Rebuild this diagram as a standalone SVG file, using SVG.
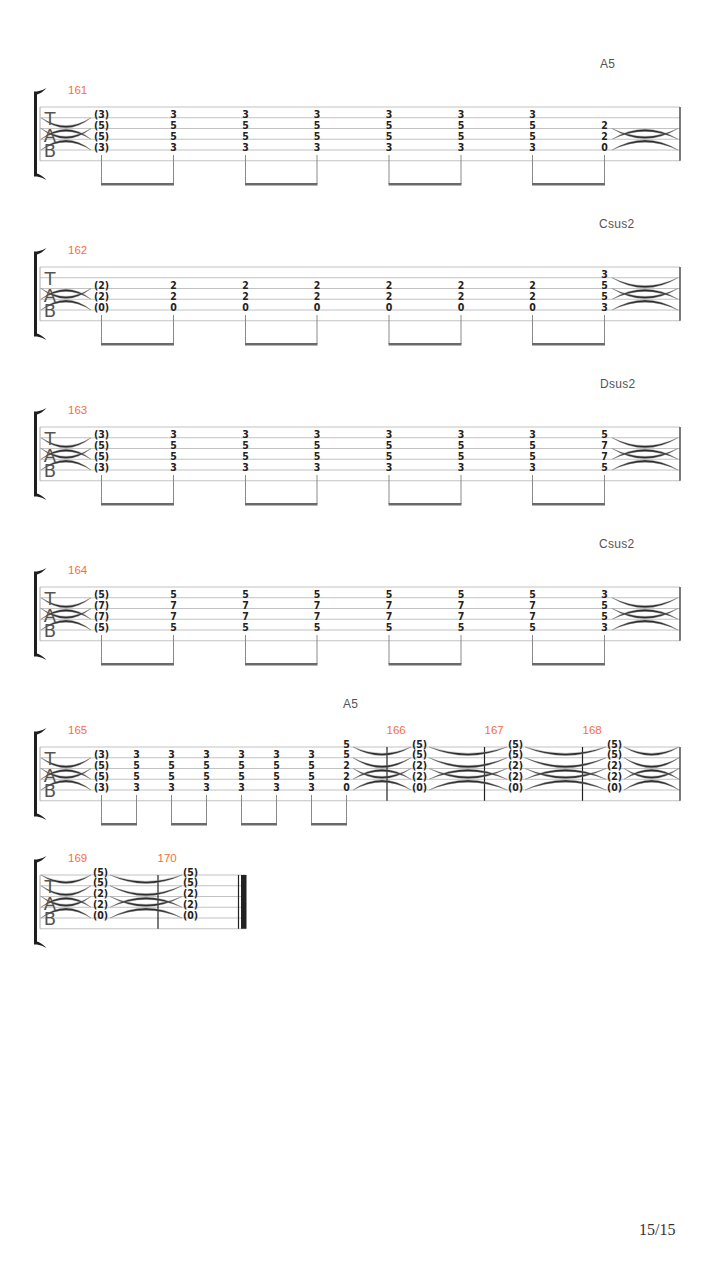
<svg xmlns="http://www.w3.org/2000/svg" width="720" height="1280" viewBox="0 0 720 1280">
<style>
.sl{stroke:#c2c2c2;stroke-width:1}
.lb{stroke:#a8a8a8;stroke-width:1}
.bl{stroke:#222;stroke-width:1.2}
.n{font-family:"DejaVu Sans Condensed","DejaVu Sans",sans-serif;font-weight:bold;font-size:10.5px;fill:#222;text-anchor:middle}
.mn{font-family:"Liberation Sans",Arial,sans-serif;font-size:11.5px;fill:#f2703f}
.ch{font-family:"Liberation Sans",Arial,sans-serif;font-size:12px;fill:#555;letter-spacing:0.3px}
.tab{font-family:"DejaVu Sans",sans-serif;font-size:18px;fill:#555;text-anchor:middle}
.st{stroke:#8a8a8a;stroke-width:1}
.bm{fill:#6a6a6a}
.tie path{fill:#2b2b2b;stroke:#888;stroke-width:0.4;vector-effect:non-scaling-stroke}
.brk{fill:#1e1e1e}
.pg{font-family:"Liberation Serif","Times New Roman",serif;font-size:16px;fill:#333}
</style>
<defs>
<g id="staff">
<line class="sl" x1="40" y1="0" x2="680" y2="0"/>
<line class="sl" x1="40" y1="10.75" x2="680" y2="10.75"/>
<line class="sl" x1="40" y1="21.5" x2="680" y2="21.5"/>
<line class="sl" x1="40" y1="32.25" x2="680" y2="32.25"/>
<line class="sl" x1="40" y1="43" x2="680" y2="43"/>
<line class="sl" x1="40" y1="53.75" x2="680" y2="53.75"/>
</g>
<g id="br">
<rect class="brk" x="34" y="-14" width="3" height="82"/>
<path class="brk" d="M34 -15.5 L37 -15.5 Q42 -16 46.5 -19 Q42 -14 37 -12.5 L34 -12.5Z"/>
<path class="brk" d="M34 69.5 L37 69.5 Q42 70 46.5 73 Q42 68 37 66.5 L34 66.5Z"/>
</g>
<g id="tA" class="tie">
<path d="M0 10.75 Q50 30.75 100 10.75 Q50 26.5 0 10.75Z"/>
<path d="M0 21.5 Q50 41.5 100 21.5 Q50 37.25 0 21.5Z"/>
<path d="M0 32.25 Q50 12.25 100 32.25 Q50 16.5 0 32.25Z"/>
<path d="M0 43 Q50 23 100 43 Q50 27.25 0 43Z"/>
</g>
<g id="tB" class="tie">
<path d="M0 21.5 Q50 41.5 100 21.5 Q50 37.25 0 21.5Z"/>
<path d="M0 32.25 Q50 12.25 100 32.25 Q50 16.5 0 32.25Z"/>
<path d="M0 43 Q50 23 100 43 Q50 27.25 0 43Z"/>
</g>
<g id="tC" class="tie">
<path d="M0 0 Q50 17 100 0 Q50 12.75 0 0Z"/>
<path d="M0 10.75 Q50 30.75 100 10.75 Q50 26.5 0 10.75Z"/>
<path d="M0 21.5 Q50 41.5 100 21.5 Q50 37.25 0 21.5Z"/>
<path d="M0 32.25 Q50 12.25 100 32.25 Q50 16.5 0 32.25Z"/>
<path d="M0 43 Q50 23 100 43 Q50 27.25 0 43Z"/>
</g>
</defs>
<rect x="0" y="0" width="720" height="1280" fill="#fff"/>

<!-- System 1 -->
<g id="sys1" transform="translate(0,107)">
<use href="#staff"/>
<use href="#br"/>
<text class="tab" x="50" y="18">T</text><text class="tab" x="50" y="35">A</text><text class="tab" x="50" y="50">B</text>
<line class="lb" x1="40" y1="0" x2="40" y2="53.75"/>
<line class="bl" x1="680" y1="0" x2="680" y2="53.75"/>
<g id="m161">
<text class="mn" x="68" y="-13">161</text>
<text class="ch" x="600" y="-38.7">A5</text>
<text class="n" x="101.5" y="11.45">(3)</text><text class="n" x="101.5" y="22.2">(5)</text><text class="n" x="101.5" y="32.95">(5)</text><text class="n" x="101.5" y="43.7">(3)</text>
<text class="n" x="173.5" y="11.45">3</text><text class="n" x="173.5" y="22.2">5</text><text class="n" x="173.5" y="32.95">5</text><text class="n" x="173.5" y="43.7">3</text>
<text class="n" x="245.5" y="11.45">3</text><text class="n" x="245.5" y="22.2">5</text><text class="n" x="245.5" y="32.95">5</text><text class="n" x="245.5" y="43.7">3</text>
<text class="n" x="317" y="11.45">3</text><text class="n" x="317" y="22.2">5</text><text class="n" x="317" y="32.95">5</text><text class="n" x="317" y="43.7">3</text>
<text class="n" x="389" y="11.45">3</text><text class="n" x="389" y="22.2">5</text><text class="n" x="389" y="32.95">5</text><text class="n" x="389" y="43.7">3</text>
<text class="n" x="461" y="11.45">3</text><text class="n" x="461" y="22.2">5</text><text class="n" x="461" y="32.95">5</text><text class="n" x="461" y="43.7">3</text>
<text class="n" x="532.5" y="11.45">3</text><text class="n" x="532.5" y="22.2">5</text><text class="n" x="532.5" y="32.95">5</text><text class="n" x="532.5" y="43.7">3</text>
<text class="n" x="604.5" y="22.2">2</text><text class="n" x="604.5" y="32.95">2</text><text class="n" x="604.5" y="43.7">0</text>
</g>
</g>

<!-- System 2 -->
<g id="sys2" transform="translate(0,267)">
<use href="#staff"/>
<use href="#br"/>
<text class="tab" x="50" y="18">T</text><text class="tab" x="50" y="35">A</text><text class="tab" x="50" y="50">B</text>
<line class="lb" x1="40" y1="0" x2="40" y2="53.75"/>
<line class="bl" x1="680" y1="0" x2="680" y2="53.75"/>
<g id="m162">
<text class="mn" x="68" y="-13">162</text>
<text class="ch" x="599" y="-38.7">Csus2</text>
<text class="n" x="101.5" y="22.2">(2)</text><text class="n" x="101.5" y="32.95">(2)</text><text class="n" x="101.5" y="43.7">(0)</text>
<text class="n" x="173.5" y="22.2">2</text><text class="n" x="173.5" y="32.95">2</text><text class="n" x="173.5" y="43.7">0</text>
<text class="n" x="245.5" y="22.2">2</text><text class="n" x="245.5" y="32.95">2</text><text class="n" x="245.5" y="43.7">0</text>
<text class="n" x="317" y="22.2">2</text><text class="n" x="317" y="32.95">2</text><text class="n" x="317" y="43.7">0</text>
<text class="n" x="389" y="22.2">2</text><text class="n" x="389" y="32.95">2</text><text class="n" x="389" y="43.7">0</text>
<text class="n" x="461" y="22.2">2</text><text class="n" x="461" y="32.95">2</text><text class="n" x="461" y="43.7">0</text>
<text class="n" x="532.5" y="22.2">2</text><text class="n" x="532.5" y="32.95">2</text><text class="n" x="532.5" y="43.7">0</text>
<text class="n" x="604.5" y="11.45">3</text><text class="n" x="604.5" y="22.2">5</text><text class="n" x="604.5" y="32.95">5</text><text class="n" x="604.5" y="43.7">3</text>
</g>
</g>

<!-- System 3 -->
<g id="sys3" transform="translate(0,427)">
<use href="#staff"/>
<use href="#br"/>
<text class="tab" x="50" y="18">T</text><text class="tab" x="50" y="35">A</text><text class="tab" x="50" y="50">B</text>
<line class="lb" x1="40" y1="0" x2="40" y2="53.75"/>
<line class="bl" x1="680" y1="0" x2="680" y2="53.75"/>
<g id="m163">
<text class="mn" x="68" y="-13">163</text>
<text class="ch" x="600" y="-38.7">Dsus2</text>
<text class="n" x="101.5" y="11.45">(3)</text><text class="n" x="101.5" y="22.2">(5)</text><text class="n" x="101.5" y="32.95">(5)</text><text class="n" x="101.5" y="43.7">(3)</text>
<text class="n" x="173.5" y="11.45">3</text><text class="n" x="173.5" y="22.2">5</text><text class="n" x="173.5" y="32.95">5</text><text class="n" x="173.5" y="43.7">3</text>
<text class="n" x="245.5" y="11.45">3</text><text class="n" x="245.5" y="22.2">5</text><text class="n" x="245.5" y="32.95">5</text><text class="n" x="245.5" y="43.7">3</text>
<text class="n" x="317" y="11.45">3</text><text class="n" x="317" y="22.2">5</text><text class="n" x="317" y="32.95">5</text><text class="n" x="317" y="43.7">3</text>
<text class="n" x="389" y="11.45">3</text><text class="n" x="389" y="22.2">5</text><text class="n" x="389" y="32.95">5</text><text class="n" x="389" y="43.7">3</text>
<text class="n" x="461" y="11.45">3</text><text class="n" x="461" y="22.2">5</text><text class="n" x="461" y="32.95">5</text><text class="n" x="461" y="43.7">3</text>
<text class="n" x="532.5" y="11.45">3</text><text class="n" x="532.5" y="22.2">5</text><text class="n" x="532.5" y="32.95">5</text><text class="n" x="532.5" y="43.7">3</text>
<text class="n" x="604.5" y="11.45">5</text><text class="n" x="604.5" y="22.2">7</text><text class="n" x="604.5" y="32.95">7</text><text class="n" x="604.5" y="43.7">5</text>
</g>
</g>

<!-- System 4 -->
<g id="sys4" transform="translate(0,587)">
<use href="#staff"/>
<use href="#br"/>
<text class="tab" x="50" y="18">T</text><text class="tab" x="50" y="35">A</text><text class="tab" x="50" y="50">B</text>
<line class="lb" x1="40" y1="0" x2="40" y2="53.75"/>
<line class="bl" x1="680" y1="0" x2="680" y2="53.75"/>
<g id="m164">
<text class="mn" x="68" y="-13">164</text>
<text class="ch" x="599" y="-38.7">Csus2</text>
<text class="n" x="101.5" y="11.45">(5)</text><text class="n" x="101.5" y="22.2">(7)</text><text class="n" x="101.5" y="32.95">(7)</text><text class="n" x="101.5" y="43.7">(5)</text>
<text class="n" x="173.5" y="11.45">5</text><text class="n" x="173.5" y="22.2">7</text><text class="n" x="173.5" y="32.95">7</text><text class="n" x="173.5" y="43.7">5</text>
<text class="n" x="245.5" y="11.45">5</text><text class="n" x="245.5" y="22.2">7</text><text class="n" x="245.5" y="32.95">7</text><text class="n" x="245.5" y="43.7">5</text>
<text class="n" x="317" y="11.45">5</text><text class="n" x="317" y="22.2">7</text><text class="n" x="317" y="32.95">7</text><text class="n" x="317" y="43.7">5</text>
<text class="n" x="389" y="11.45">5</text><text class="n" x="389" y="22.2">7</text><text class="n" x="389" y="32.95">7</text><text class="n" x="389" y="43.7">5</text>
<text class="n" x="461" y="11.45">5</text><text class="n" x="461" y="22.2">7</text><text class="n" x="461" y="32.95">7</text><text class="n" x="461" y="43.7">5</text>
<text class="n" x="532.5" y="11.45">5</text><text class="n" x="532.5" y="22.2">7</text><text class="n" x="532.5" y="32.95">7</text><text class="n" x="532.5" y="43.7">5</text>
<text class="n" x="604.5" y="11.45">3</text><text class="n" x="604.5" y="22.2">5</text><text class="n" x="604.5" y="32.95">5</text><text class="n" x="604.5" y="43.7">3</text>
</g>
</g>

<!-- System 5 -->
<g id="sys5" transform="translate(0,747)">
<use href="#staff"/>
<use href="#br"/>
<text class="tab" x="50" y="18">T</text><text class="tab" x="50" y="35">A</text><text class="tab" x="50" y="50">B</text>
<line class="lb" x1="40" y1="0" x2="40" y2="53.75"/>
<line class="bl" x1="387" y1="0" x2="387" y2="53.75"/>
<line class="bl" x1="484.5" y1="0" x2="484.5" y2="53.75"/>
<line class="bl" x1="582.5" y1="0" x2="582.5" y2="53.75"/>
<line class="bl" x1="680" y1="0" x2="680" y2="53.75"/>
<g id="m165">
<text class="mn" x="68" y="-13">165</text>
<text class="ch" x="343" y="-38.7">A5</text>
<text class="n" x="101.5" y="11.45">(3)</text><text class="n" x="101.5" y="22.2">(5)</text><text class="n" x="101.5" y="32.95">(5)</text><text class="n" x="101.5" y="43.7">(3)</text>
<text class="n" x="136.5" y="11.45">3</text><text class="n" x="136.5" y="22.2">5</text><text class="n" x="136.5" y="32.95">5</text><text class="n" x="136.5" y="43.7">3</text>
<text class="n" x="171.5" y="11.45">3</text><text class="n" x="171.5" y="22.2">5</text><text class="n" x="171.5" y="32.95">5</text><text class="n" x="171.5" y="43.7">3</text>
<text class="n" x="206.5" y="11.45">3</text><text class="n" x="206.5" y="22.2">5</text><text class="n" x="206.5" y="32.95">5</text><text class="n" x="206.5" y="43.7">3</text>
<text class="n" x="241.5" y="11.45">3</text><text class="n" x="241.5" y="22.2">5</text><text class="n" x="241.5" y="32.95">5</text><text class="n" x="241.5" y="43.7">3</text>
<text class="n" x="276.5" y="11.45">3</text><text class="n" x="276.5" y="22.2">5</text><text class="n" x="276.5" y="32.95">5</text><text class="n" x="276.5" y="43.7">3</text>
<text class="n" x="311.5" y="11.45">3</text><text class="n" x="311.5" y="22.2">5</text><text class="n" x="311.5" y="32.95">5</text><text class="n" x="311.5" y="43.7">3</text>
<text class="n" x="346.5" y="0.7">5</text><text class="n" x="346.5" y="11.45">5</text><text class="n" x="346.5" y="22.2">2</text><text class="n" x="346.5" y="32.95">2</text><text class="n" x="346.5" y="43.7">0</text>
</g>
<g id="m166">
<text class="mn" x="386.5" y="-13">166</text>
<text class="n" x="419.5" y="0.7">(5)</text><text class="n" x="419.5" y="11.45">(5)</text><text class="n" x="419.5" y="22.2">(2)</text><text class="n" x="419.5" y="32.95">(2)</text><text class="n" x="419.5" y="43.7">(0)</text>
</g>
<g id="m167">
<text class="mn" x="484.5" y="-13">167</text>
<text class="n" x="515.5" y="0.7">(5)</text><text class="n" x="515.5" y="11.45">(5)</text><text class="n" x="515.5" y="22.2">(2)</text><text class="n" x="515.5" y="32.95">(2)</text><text class="n" x="515.5" y="43.7">(0)</text>
</g>
<g id="m168">
<text class="mn" x="582.5" y="-13">168</text>
<text class="n" x="614.5" y="0.7">(5)</text><text class="n" x="614.5" y="11.45">(5)</text><text class="n" x="614.5" y="22.2">(2)</text><text class="n" x="614.5" y="32.95">(2)</text><text class="n" x="614.5" y="43.7">(0)</text>
</g>
</g>

<!-- System 6 -->
<g id="sys6" transform="translate(0,875)">
<line class="sl" x1="40" y1="0" x2="246" y2="0"/>
<line class="sl" x1="40" y1="10.75" x2="246" y2="10.75"/>
<line class="sl" x1="40" y1="21.5" x2="246" y2="21.5"/>
<line class="sl" x1="40" y1="32.25" x2="246" y2="32.25"/>
<line class="sl" x1="40" y1="43" x2="246" y2="43"/>
<line class="sl" x1="40" y1="53.75" x2="246" y2="53.75"/>
<use href="#br"/>
<text class="tab" x="50" y="18">T</text><text class="tab" x="50" y="35">A</text><text class="tab" x="50" y="50">B</text>
<line class="lb" x1="40" y1="0" x2="40" y2="53.75"/>
<line class="bl" x1="158" y1="0" x2="158" y2="53.75"/>
<line class="bl" x1="238.5" y1="0" x2="238.5" y2="53.75"/>
<rect x="241" y="0" width="5.5" height="53.75" fill="#222"/>
<g id="m169">
<text class="mn" x="68" y="-13">169</text>
<text class="n" x="100.5" y="0.7">(5)</text><text class="n" x="100.5" y="11.45">(5)</text><text class="n" x="100.5" y="22.2">(2)</text><text class="n" x="100.5" y="32.95">(2)</text><text class="n" x="100.5" y="43.7">(0)</text>
</g>
<g id="m170">
<text class="mn" x="157.5" y="-13">170</text>
<text class="n" x="190.5" y="0.7">(5)</text><text class="n" x="190.5" y="11.45">(5)</text><text class="n" x="190.5" y="22.2">(2)</text><text class="n" x="190.5" y="32.95">(2)</text><text class="n" x="190.5" y="43.7">(0)</text>
</g>
</g>

<!-- Connectors: ties, stems, beams -->
<g id="connectors">
<g transform="translate(0,107)">
<use href="#tA" transform="translate(41,0) scale(0.5,1)"/>
<use href="#tB" transform="translate(612,0) scale(0.66,1)"/>
</g>
<g transform="translate(0,267)">
<use href="#tB" transform="translate(41,0) scale(0.5,1)"/>
<use href="#tA" transform="translate(612,0) scale(0.66,1)"/>
</g>
<g transform="translate(0,427)">
<use href="#tA" transform="translate(41,0) scale(0.5,1)"/>
<use href="#tA" transform="translate(612,0) scale(0.66,1)"/>
</g>
<g transform="translate(0,587)">
<use href="#tA" transform="translate(41,0) scale(0.5,1)"/>
<use href="#tA" transform="translate(612,0) scale(0.66,1)"/>
</g>
<g transform="translate(0,747)">
<use href="#tA" transform="translate(41,0) scale(0.5,1)"/>
<use href="#tC" transform="translate(353,0) scale(0.58,1)"/>
<use href="#tC" transform="translate(429,0) scale(0.78,1)"/>
<use href="#tC" transform="translate(525,0) scale(0.81,1)"/>
<use href="#tC" transform="translate(624,0) scale(0.55,1)"/>
</g>
<g transform="translate(0,875)">
<use href="#tC" transform="translate(41,0) scale(0.5,1)"/>
<use href="#tC" transform="translate(110,0) scale(0.72,1)"/>
</g>
<g id="beams1-4">
<g transform="translate(0,107)">
<line class="st" x1="101.5" y1="48" x2="101.5" y2="77"/><line class="st" x1="173.5" y1="48" x2="173.5" y2="77"/><line class="st" x1="245.5" y1="48" x2="245.5" y2="77"/><line class="st" x1="317" y1="48" x2="317" y2="77"/><line class="st" x1="389" y1="48" x2="389" y2="77"/><line class="st" x1="461" y1="48" x2="461" y2="77"/><line class="st" x1="532.5" y1="48" x2="532.5" y2="77"/><line class="st" x1="604.5" y1="48" x2="604.5" y2="77"/>
<rect class="bm" x="101" y="76" width="73" height="2.5"/><rect class="bm" x="245" y="76" width="72.5" height="2.5"/><rect class="bm" x="388.5" y="76" width="73" height="2.5"/><rect class="bm" x="532" y="76" width="73" height="2.5"/>
</g>
<g transform="translate(0,267)">
<line class="st" x1="101.5" y1="48" x2="101.5" y2="77"/><line class="st" x1="173.5" y1="48" x2="173.5" y2="77"/><line class="st" x1="245.5" y1="48" x2="245.5" y2="77"/><line class="st" x1="317" y1="48" x2="317" y2="77"/><line class="st" x1="389" y1="48" x2="389" y2="77"/><line class="st" x1="461" y1="48" x2="461" y2="77"/><line class="st" x1="532.5" y1="48" x2="532.5" y2="77"/><line class="st" x1="604.5" y1="48" x2="604.5" y2="77"/>
<rect class="bm" x="101" y="76" width="73" height="2.5"/><rect class="bm" x="245" y="76" width="72.5" height="2.5"/><rect class="bm" x="388.5" y="76" width="73" height="2.5"/><rect class="bm" x="532" y="76" width="73" height="2.5"/>
</g>
<g transform="translate(0,427)">
<line class="st" x1="101.5" y1="48" x2="101.5" y2="77"/><line class="st" x1="173.5" y1="48" x2="173.5" y2="77"/><line class="st" x1="245.5" y1="48" x2="245.5" y2="77"/><line class="st" x1="317" y1="48" x2="317" y2="77"/><line class="st" x1="389" y1="48" x2="389" y2="77"/><line class="st" x1="461" y1="48" x2="461" y2="77"/><line class="st" x1="532.5" y1="48" x2="532.5" y2="77"/><line class="st" x1="604.5" y1="48" x2="604.5" y2="77"/>
<rect class="bm" x="101" y="76" width="73" height="2.5"/><rect class="bm" x="245" y="76" width="72.5" height="2.5"/><rect class="bm" x="388.5" y="76" width="73" height="2.5"/><rect class="bm" x="532" y="76" width="73" height="2.5"/>
</g>
<g transform="translate(0,587)">
<line class="st" x1="101.5" y1="48" x2="101.5" y2="77"/><line class="st" x1="173.5" y1="48" x2="173.5" y2="77"/><line class="st" x1="245.5" y1="48" x2="245.5" y2="77"/><line class="st" x1="317" y1="48" x2="317" y2="77"/><line class="st" x1="389" y1="48" x2="389" y2="77"/><line class="st" x1="461" y1="48" x2="461" y2="77"/><line class="st" x1="532.5" y1="48" x2="532.5" y2="77"/><line class="st" x1="604.5" y1="48" x2="604.5" y2="77"/>
<rect class="bm" x="101" y="76" width="73" height="2.5"/><rect class="bm" x="245" y="76" width="72.5" height="2.5"/><rect class="bm" x="388.5" y="76" width="73" height="2.5"/><rect class="bm" x="532" y="76" width="73" height="2.5"/>
</g>
</g>
<g id="beams5" transform="translate(0,747)">
<line class="st" x1="101.5" y1="48" x2="101.5" y2="77"/><line class="st" x1="136.5" y1="48" x2="136.5" y2="77"/><line class="st" x1="171.5" y1="48" x2="171.5" y2="77"/><line class="st" x1="206.5" y1="48" x2="206.5" y2="77"/><line class="st" x1="241.5" y1="48" x2="241.5" y2="77"/><line class="st" x1="276.5" y1="48" x2="276.5" y2="77"/><line class="st" x1="311.5" y1="48" x2="311.5" y2="77"/><line class="st" x1="346.5" y1="48" x2="346.5" y2="77"/>
<rect class="bm" x="101" y="76" width="36" height="2.5"/><rect class="bm" x="171" y="76" width="36" height="2.5"/><rect class="bm" x="241" y="76" width="36" height="2.5"/><rect class="bm" x="311" y="76" width="36" height="2.5"/>
</g>
</g>

<text class="pg" x="639" y="1235">15/15</text>
</svg>
